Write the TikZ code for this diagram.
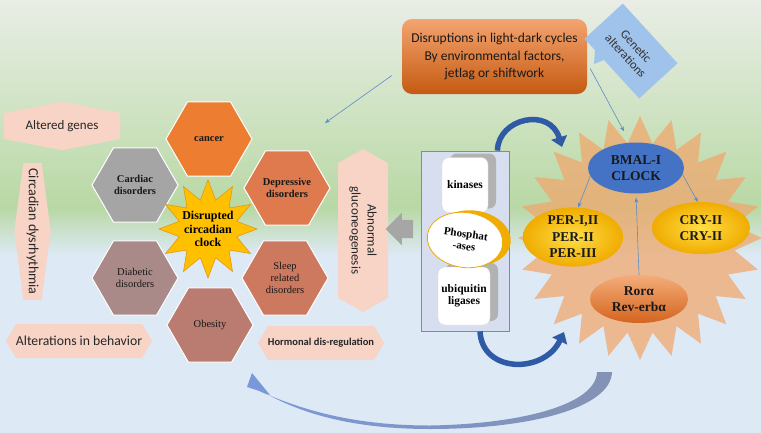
\documentclass[tikz,border=0pt]{standalone}
\usepackage{fontspec}
\setmainfont{Liberation Serif}
\newfontfamily\calib{Carlito}
\usetikzlibrary{shapes.geometric,shapes.symbols,shapes.arrows,arrows.meta,shadows,calc}

\definecolor{bgtop}{RGB}{233,237,230}
\definecolor{bgmid}{RGB}{205,226,192}
\definecolor{bggreen}{RGB}{184,216,164}
\definecolor{bgblue}{RGB}{221,233,245}
\definecolor{pinklbl}{RGB}{248,212,199}
\definecolor{cancerc}{RGB}{237,125,49}
\definecolor{cardiacc}{RGB}{165,165,165}
\definecolor{depressc}{RGB}{222,122,78}
\definecolor{diabetc}{RGB}{170,138,136}
\definecolor{sleepc}{RGB}{204,121,96}
\definecolor{obesec}{RGB}{186,124,112}
\definecolor{staryel}{RGB}{255,192,0}
\definecolor{starline}{RGB}{230,150,20}
\definecolor{burstc}{RGB}{240,168,110}
\definecolor{bmalblue}{RGB}{68,114,196}
\definecolor{goldlt}{RGB}{255,222,70}
\definecolor{golddk}{RGB}{240,172,0}
\definecolor{rorlt}{RGB}{245,172,122}
\definecolor{rordk}{RGB}{212,100,30}
\definecolor{boxlt}{RGB}{244,164,112}
\definecolor{boxdk}{RGB}{197,90,17}
\definecolor{genblue}{RGB}{160,195,235}
\definecolor{modfill}{RGB}{214,222,240}
\definecolor{modline}{RGB}{190,120,90}
\definecolor{linkblue}{RGB}{91,140,200}
\definecolor{curveblue}{RGB}{47,90,165}
\definecolor{loopleft}{RGB}{122,152,218}
\definecolor{loopright}{RGB}{132,146,180}

\pgfdeclareverticalshading{backdrop}{100bp}{color(0bp)=(bgblue); color(45.5bp)=(bgblue); color(51bp)=(bggreen); color(61bp)=(bgmid); color(75bp)=(bgtop); color(100bp)=(bgtop)}

\begin{document}
\begin{tikzpicture}[x=1pt,y=-1pt,
  hexcell/.style={regular polygon, regular polygon sides=6, minimum size=86pt, inner sep=0pt,
    draw=white, line width=1pt, align=center, text=black!90, font=\fontsize{10.5}{12}\selectfont},
  pinktag/.style={shape=signal, fill=pinklbl, inner sep=0pt, align=center, text=black!85,
    font=\calib\fontsize{13}{16}\selectfont},
  orb/.style={ellipse, inner sep=0pt, align=center, text=black!90, font=\bfseries\fontsize{13.5}{16.5}\selectfont},
  cube/.style={rectangle, rounded corners=7pt, fill=white, draw=gray!30, inner sep=0pt, align=center,
    font=\bfseries\fontsize{11.5}{12.5}\selectfont,
    general shadow={fill=gray!60, shadow xshift=8pt, shadow yshift=4pt}},
  linkarrow/.style={draw=linkblue, line width=0.6pt, -{Stealth[length=5pt,width=4pt]}},
  bluecurve/.style={draw=curveblue, line width=5.5pt, -{Triangle[length=10pt,width=16pt]}}]

\useasboundingbox (0,0) rectangle (761,432);
\clip (0,0) rectangle (761,432);
\shade[shading=backdrop] (0,0) rectangle (761,432);

% long feedback arrow at the bottom
\shade[left color=loopleft, right color=loopright]
  (612,372) .. controls (611,408) and (530,429) .. (430,429)
  .. controls (340,429) and (292,408) .. (264,392.5)
  -- (270,395) -- (252,373) -- (247,387) -- (258,390.5)
  .. controls (293,406) and (345,425.5) .. (430,425.5)
  .. controls (520,424) and (596,405) .. (597,372) -- cycle;

% outcomes
\node[pinktag, signal to=north and south, signal pointer angle=158,
  minimum width=116pt, minimum height=40pt] (genes) at (62,126) {Altered genes};
\node[pinktag, rotate=-90, signal to=north and south, signal pointer angle=165, font=\calib\fontsize{14}{16}\selectfont,
  minimum width=137pt, minimum height=35pt] (dys) at (32.5,231.5) {Circadian dysrhythmia};
\node[pinktag, signal to=west and east, signal pointer angle=119, font=\calib\fontsize{13.7}{15}\selectfont,
  minimum width=138pt, minimum height=34pt] (behav) at (79,341) {Alterations in behavior};
\node[pinktag, signal to=west and east, signal pointer angle=119, font=\calib\bfseries\fontsize{10.5}{12}\selectfont,
  minimum width=118pt, minimum height=34pt] (horm) at (321,343) {Hormonal dis-regulation};
\node[pinktag, rotate=-90, signal to=west and east, signal pointer angle=121,
  minimum width=163pt, minimum height=50pt] (gluc) at (363,230.5) {Abnormal\\gluconeogenesis};

% disorders round the disrupted clock
\node[hexcell, fill=cancerc, font=\bfseries\fontsize{10.5}{12}\selectfont] (cancer) at (209,139) {cancer};
\node[hexcell, fill=cardiacc, font=\bfseries\fontsize{10.5}{12}\selectfont] (cardiac) at (135,185) {Cardiac\\disorders};
\node[hexcell, fill=depressc, font=\bfseries\fontsize{10.5}{12}\selectfont] (depress) at (287,188) {Depressive\\disorders};
\node[hexcell, fill=diabetc] (diabet) at (135,278) {Diabetic\\disorders};
\node[hexcell, fill=sleepc] (sleep) at (285,278) {Sleep\\related\\disorders};
\node[hexcell, fill=obesec] (obese) at (210,325) {Obesity};
\node[star, star points=12, star point ratio=1.65, minimum size=98pt, inner sep=0pt,
  fill=staryel, draw=starline, line width=0.6pt,
  label={[align=center, font=\bfseries\fontsize{12}{13.5}\selectfont]center:Disrupted\\circadian\\clock}] (core) at (208,229) {};

% cause
\node[rounded corners=10pt, top color=boxlt, bottom color=boxdk, minimum width=185pt, minimum height=75pt,
  align=center, text=black!90, font=\calib\fontsize{13.5}{17.5}\selectfont] (dis) at (494.5,56.5)
  {Disruptions in light-dark cycles\\By environmental factors,\\jetlag or shiftwork};
\fill[genblue] (595,50) -- (594,64) -- (604,60) -- cycle;
\node[fill=genblue, rotate=-47.5, minimum width=81pt, minimum height=52pt, align=center, text=black!80,
  font=\calib\fontsize{12.5}{14}\selectfont] (gen) at (631,51) {Genetic\\alterations};
\coordinate (aim) at (325,123);
\draw[linkarrow] ([xshift=-10pt,yshift=-19pt]dis.west) -- (aim);

% modifiers
\node[draw=modline, fill=modfill, line width=0.8pt, minimum width=88pt, minimum height=180pt] (mod) at (465,241) {};
\node[cube, minimum width=46pt, minimum height=55pt] (kin) at (465,185) {kinases};
\node[cube, minimum width=52pt, minimum height=58pt] (ubq) at (464,296) {ubiquitin\\ligases};
\node[ellipse, fill=white, draw=golddk, line width=0.8pt, minimum width=76pt, minimum height=55pt, inner sep=0pt,
  align=center, rotate=-8, font=\bfseries\fontsize{11}{12.5}\selectfont,
  general shadow={fill=golddk, shadow xshift=8pt, shadow yshift=2pt}] (pho) at (465,240) {Phosphat\\-ases};
\node[single arrow, shape border rotate=180, fill=gray!70, inner sep=9pt, single arrow head extend=7pt,
  minimum height=26pt] (back) at (404,229) {};

% the clock loop
\node[star, star points=24, star point ratio=1.28, minimum size=244pt, inner sep=0pt,
  fill=burstc, fill opacity=0.75] (burst) at (640,238) {};
\node[orb, fill=bmalblue, minimum width=96pt, minimum height=51pt] (bmal) at (636,168) {BMAL-I\\CLOCK};
\node[orb, inner color=goldlt, outer color=golddk, minimum width=100pt, minimum height=56pt] (per) at (573,237) {PER-I,II\\PER-II\\PER-III};
\node[orb, inner color=goldlt, outer color=golddk, minimum width=98pt, minimum height=52pt] (cry) at (701,228) {CRY-II\\CRY-II};
\node[orb, top color=rorlt, bottom color=rordk, minimum width=98pt, minimum height=48pt] (ror) at (639,299) {Rorα\\Rev-erbα};

\draw[linkarrow] (bmal.190) -- (per.80);
\draw[linkarrow] (bmal.-8) -- (cry.97);
\draw[linkarrow, shorten >=4pt] (ror.north) -- (bmal.south);
\draw[linkarrow] ([xshift=3pt,yshift=-12pt]dis.east) -- ([xshift=-12pt,yshift=11pt]bmal.north);

\draw[bluecurve] ([xshift=-12pt]mod.north east) .. controls +(1,-33) and +(-12,-40) .. ($(burst.center)+(-78,-91)$);
\draw[bluecurve] ([xshift=15pt]mod.south) .. controls +(2,42) and +(-20,42) .. ($(burst.center)+(-76,94)$);

\end{tikzpicture}
\end{document}
